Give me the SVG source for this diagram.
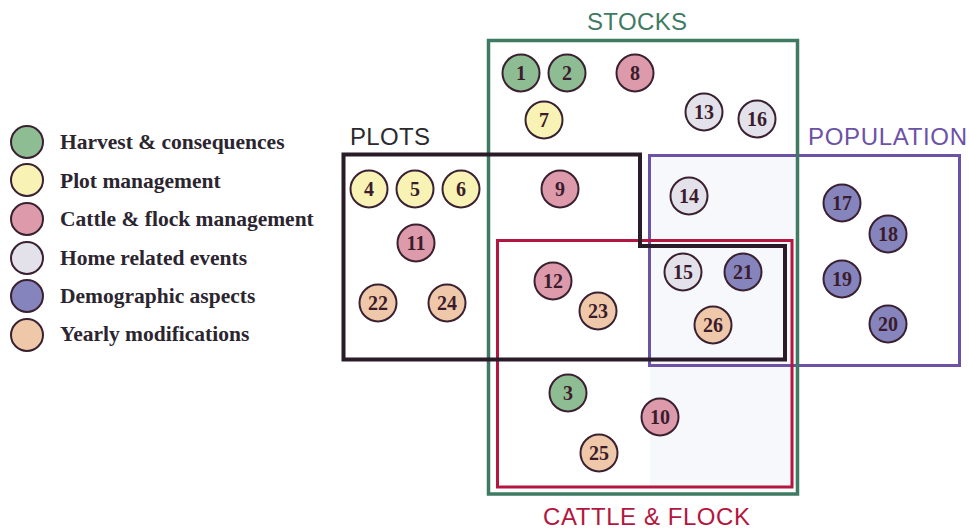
<svg xmlns="http://www.w3.org/2000/svg" width="969" height="529" viewBox="0 0 969 529">
  <style>
    .box { fill: none; }
    .set-label { font-family: "Liberation Sans", Arial, sans-serif; font-size: 24px; }
    .legend-text { font-family: "Liberation Serif", "Times New Roman", serif; font-size: 21.5px; font-weight: bold; fill: #2b2530; }
    .node circle { stroke: #3a2132; stroke-width: 2; }
    .node text { font-family: "Liberation Serif", "Times New Roman", serif; font-size: 20px; font-weight: bold; fill: #3a1c2c; text-anchor: middle; dominant-baseline: central; }
    .harvest { fill: #8fbd93; }
    .plot { fill: #f8f3b4; }
    .cattle { fill: #dd9aab; }
    .home { fill: #e3e1ea; }
    .demo { fill: #8684bd; }
    .yearly { fill: #efc8a9; }
  </style>

  <rect width="969" height="529" fill="#ffffff"/>
  <!-- faint tint over the right part of the sets -->
  <rect x="650" y="156" width="146" height="330" fill="#f6f8fb"/>

  <!-- set outlines -->
  <g id="sets">
    <rect id="population-box" class="box" x="649.5" y="155.5" width="310" height="210" stroke="#6c52a6" stroke-width="3"/>
    <rect id="cattle-box" class="box" x="497.5" y="240.5" width="294.5" height="246.5" stroke="#b3173f" stroke-width="3"/>
    <rect id="stocks-box" class="box" x="488.5" y="40.5" width="309" height="453.5" stroke="#3f7b62" stroke-width="3.5"/>
    <path id="plots-box" class="box" d="M343.5,154.5 H640 V246 H785 V359.5 H343.5 Z" stroke="#2a1b28" stroke-width="4"/>
  </g>

  <!-- set titles -->
  <g id="titles">
    <text class="set-label" x="587" y="30" textLength="100" fill="#3f7b62">STOCKS</text>
    <text class="set-label" x="350" y="145" textLength="80" fill="#2a2a30">PLOTS</text>
    <text class="set-label" x="808" y="145" textLength="159" fill="#6c52a6">POPULATION</text>
    <text class="set-label" x="543" y="525" textLength="207" fill="#b3173f">CATTLE &amp; FLOCK</text>
  </g>

  <!-- legend -->
  <g id="legend">
    <g class="node"><circle class="harvest" cx="27" cy="142" r="16"/></g>
    <text class="legend-text" x="60" y="149">Harvest &amp; consequences</text>
    <g class="node"><circle class="plot" cx="27" cy="180" r="16"/></g>
    <text class="legend-text" x="60" y="188">Plot management</text>
    <g class="node"><circle class="cattle" cx="27" cy="219" r="16"/></g>
    <text class="legend-text" x="60" y="226">Cattle &amp; flock management</text>
    <g class="node"><circle class="home" cx="27" cy="258" r="16"/></g>
    <text class="legend-text" x="60" y="265">Home related events</text>
    <g class="node"><circle class="demo" cx="27" cy="296" r="16"/></g>
    <text class="legend-text" x="60" y="303">Demographic aspects</text>
    <g class="node"><circle class="yearly" cx="27" cy="335" r="16"/></g>
    <text class="legend-text" x="60" y="341">Yearly modifications</text>
  </g>

  <!-- numbered events -->
  <g id="n1" class="node"><circle class="harvest" cx="521" cy="73" r="18.5"/><text x="521" y="73">1</text></g>
  <g id="n2" class="node"><circle class="harvest" cx="567" cy="73" r="18.5"/><text x="567" y="73">2</text></g>
  <g id="n3" class="node"><circle class="harvest" cx="568" cy="393" r="18.5"/><text x="568" y="393">3</text></g>
  <g id="n4" class="node"><circle class="plot" cx="369" cy="189" r="18.5"/><text x="369" y="189">4</text></g>
  <g id="n5" class="node"><circle class="plot" cx="415" cy="189" r="18.5"/><text x="415" y="189">5</text></g>
  <g id="n6" class="node"><circle class="plot" cx="461" cy="189" r="18.5"/><text x="461" y="189">6</text></g>
  <g id="n7" class="node"><circle class="plot" cx="544" cy="120" r="18.5"/><text x="544" y="120">7</text></g>
  <g id="n8" class="node"><circle class="cattle" cx="635" cy="73" r="18.5"/><text x="635" y="73">8</text></g>
  <g id="n9" class="node"><circle class="cattle" cx="560" cy="189" r="18.5"/><text x="560" y="189">9</text></g>
  <g id="n10" class="node"><circle class="cattle" cx="660" cy="417" r="18.5"/><text x="660" y="417">10</text></g>
  <g id="n11" class="node"><circle class="cattle" cx="416" cy="243" r="18.5"/><text x="416" y="243">11</text></g>
  <g id="n12" class="node"><circle class="cattle" cx="553" cy="281" r="18.5"/><text x="553" y="281">12</text></g>
  <g id="n13" class="node"><circle class="home" cx="704" cy="112" r="18.5"/><text x="704" y="112">13</text></g>
  <g id="n14" class="node"><circle class="home" cx="689" cy="196" r="18.5"/><text x="689" y="196">14</text></g>
  <g id="n15" class="node"><circle class="home" cx="683" cy="272" r="18.5"/><text x="683" y="272">15</text></g>
  <g id="n16" class="node"><circle class="home" cx="757" cy="119" r="18.5"/><text x="757" y="119">16</text></g>
  <g id="n17" class="node"><circle class="demo" cx="842" cy="203" r="18.5"/><text x="842" y="203">17</text></g>
  <g id="n18" class="node"><circle class="demo" cx="888" cy="234" r="18.5"/><text x="888" y="234">18</text></g>
  <g id="n19" class="node"><circle class="demo" cx="842" cy="279" r="18.5"/><text x="842" y="279">19</text></g>
  <g id="n20" class="node"><circle class="demo" cx="888" cy="324" r="18.5"/><text x="888" y="324">20</text></g>
  <g id="n21" class="node"><circle class="demo" cx="743" cy="272" r="18.5"/><text x="743" y="272">21</text></g>
  <g id="n22" class="node"><circle class="yearly" cx="378" cy="303" r="18.5"/><text x="378" y="303">22</text></g>
  <g id="n23" class="node"><circle class="yearly" cx="598" cy="311" r="18.5"/><text x="598" y="311">23</text></g>
  <g id="n24" class="node"><circle class="yearly" cx="447" cy="303" r="18.5"/><text x="447" y="303">24</text></g>
  <g id="n25" class="node"><circle class="yearly" cx="599" cy="453" r="18.5"/><text x="599" y="453">25</text></g>
  <g id="n26" class="node"><circle class="yearly" cx="713" cy="325" r="18.5"/><text x="713" y="325">26</text></g>

  <!-- no connectors in this figure -->
  <g id="connectors"/>
</svg>
